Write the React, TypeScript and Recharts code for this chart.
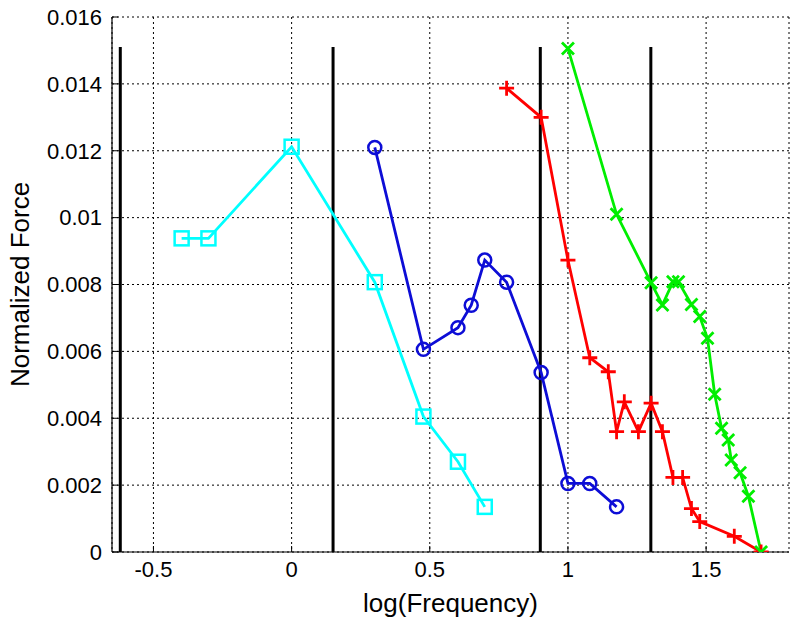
import {
  ComposedChart,
  Line,
  XAxis,
  YAxis,
  CartesianGrid,
  ReferenceLine,
} from "recharts";

// log(Frequency) values and normalized force for each trial set
const cyanX = [-0.398, -0.301, 0, 0.301, 0.477, 0.602, 0.699];
const cyanY = [0.00938, 0.00938, 0.01212, 0.00807, 0.00405, 0.0027, 0.00135];

const blueX = [0.301, 0.477, 0.602, 0.65, 0.699, 0.778, 0.903, 1.0, 1.079, 1.176];
const blueY = [0.0121, 0.00606, 0.00671, 0.00738, 0.00873, 0.00807, 0.00537, 0.00205, 0.00205, 0.00135];

const redX = [0.778, 0.903, 1.0, 1.079, 1.146, 1.176, 1.204, 1.255, 1.301, 1.342, 1.38, 1.415, 1.447, 1.477, 1.602, 1.699];
const redY = [0.01387, 0.013, 0.00873, 0.00581, 0.00539, 0.0036, 0.00449, 0.0036, 0.00445, 0.0036, 0.00223, 0.00223, 0.0013, 0.00091, 0.00047, 0];

const greenX = [1.0, 1.176, 1.301, 1.342, 1.38, 1.4, 1.447, 1.477, 1.505, 1.531, 1.556, 1.58, 1.591, 1.623, 1.653, 1.699];
const greenY = [0.01506, 0.0101, 0.00805, 0.00739, 0.00808, 0.00808, 0.0074, 0.00704, 0.00639, 0.00472, 0.0037, 0.00335, 0.00275, 0.00237, 0.00167, 0];

// black boundary lines
const boundaryX = [-0.62, 0.15, 0.9, 1.3];
const boundaryTop = 0.0151;

const xTicks = [-0.5, 0, 0.5, 1, 1.5];
const yTicks = [0, 0.002, 0.004, 0.006, 0.008, 0.01, 0.012, 0.014, 0.016];

const zip = (xs: number[], ys: number[]) => xs.map((x, i) => ({ x, y: ys[i] }));

const cyanData = zip(cyanX, cyanY);
const blueData = zip(blueX, blueY);
const redData = zip(redX, redY);
const greenData = zip(greenX, greenY);

const FONT = "'Liberation Sans', Arial, Helvetica, sans-serif";
const CYAN = "#00ffff";
const BLUE = "#0d0dd6";
const RED = "#ff0000";
const GREEN = "#00ee00";

const square = (props: any) => {
  const { cx, cy, index } = props;
  return (
    <rect
      key={`sq-${index}`}
      x={cx - 7}
      y={cy - 7}
      width={14}
      height={14}
      fill="none"
      stroke={CYAN}
      strokeWidth={2.5}
    />
  );
};

const circle = (props: any) => {
  const { cx, cy, index } = props;
  return (
    <circle key={`ci-${index}`} cx={cx} cy={cy} r={6.5} fill="none" stroke={BLUE} strokeWidth={2.5} />
  );
};

const plus = (props: any) => {
  const { cx, cy, index } = props;
  return (
    <path
      key={`pl-${index}`}
      d={`M${cx - 7.5},${cy}H${cx + 7.5}M${cx},${cy - 7.5}V${cy + 7.5}`}
      stroke={RED}
      strokeWidth={2.8}
      fill="none"
    />
  );
};

const cross = (props: any) => {
  const { cx, cy, index } = props;
  return (
    <path
      key={`cr-${index}`}
      d={`M${cx - 6},${cy - 6}L${cx + 6},${cy + 6}M${cx - 6},${cy + 6}L${cx + 6},${cy - 6}`}
      stroke={GREEN}
      strokeWidth={2.8}
      fill="none"
    />
  );
};

const fmtY = (v: number) => (v === 0 ? "0" : String(+v.toFixed(3)));

const tickStyle = { fill: "#000", fontSize: 22, fontFamily: FONT };

export default function App() {
  return (
    <div style={{ position: "absolute", left: 0, top: 0, width: 800, height: 629 }}>
      <ComposedChart
        width={800}
        height={629}
        margin={{ top: 17, right: 11, left: 0, bottom: 0 }}
        style={{ fontFamily: FONT }}
      >
        <CartesianGrid stroke="#000" strokeDasharray="2 3" strokeWidth={1} />
        <XAxis
          dataKey="x"
          type="number"
          domain={[-0.65, 1.8]}
          ticks={xTicks}
          allowDataOverflow
          interval={0}
          height={77}
          tickSize={-6}
          tickMargin={15}
          tick={tickStyle}
          axisLine={{ stroke: "#000", strokeWidth: 1.2 }}
          tickLine={{ stroke: "#000" }}
          label={{
            content: ({ viewBox }: any) => (
              <text
                x={viewBox.x + viewBox.width / 2}
                y={viewBox.y + 60}
                textAnchor="middle"
                fontSize={26}
                fontFamily={FONT}
                fill="#000"
              >
                log(Frequency)
              </text>
            ),
          }}
        />
        <XAxis
          xAxisId="top"
          orientation="top"
          type="number"
          domain={[-0.65, 1.8]}
          ticks={xTicks}
          allowDataOverflow
          interval={0}
          height={0}
          tickSize={-6}
          tickFormatter={() => ""}
          axisLine={{ stroke: "#000", strokeWidth: 1.2 }}
          tickLine={{ stroke: "#000" }}
        />
        <YAxis
          type="number"
          domain={[0, 0.016]}
          ticks={yTicks}
          allowDataOverflow
          interval={0}
          width={112}
          tickSize={-6}
          tickMargin={16}
          tickFormatter={fmtY}
          tick={tickStyle}
          axisLine={{ stroke: "#000", strokeWidth: 1.2 }}
          tickLine={{ stroke: "#000" }}
          label={{
            value: "Normalized Force",
            angle: -90,
            position: "insideLeft",
            offset: 20,
            style: { textAnchor: "middle", fontSize: 26, fontFamily: FONT, fill: "#000" },
          }}
        />
        <YAxis
          yAxisId="right"
          orientation="right"
          type="number"
          domain={[0, 0.016]}
          ticks={yTicks}
          allowDataOverflow
          interval={0}
          width={0}
          tickSize={-6}
          tickFormatter={() => ""}
          axisLine={{ stroke: "#000", strokeWidth: 1.2 }}
          tickLine={{ stroke: "#000" }}
        />
        {boundaryX.map((bx) => (
          <ReferenceLine
            key={`b-${bx}`}
            segment={[
              { x: bx, y: 0 },
              { x: bx, y: boundaryTop },
            ]}
            stroke="#000"
            strokeWidth={3}
          />
        ))}
        <Line
          data={cyanData}
          dataKey="y"
          type="linear"
          stroke={CYAN}
          strokeWidth={2.8}
          dot={square}
          activeDot={false}
          isAnimationActive={false}
        />
        <Line
          data={blueData}
          dataKey="y"
          type="linear"
          stroke={BLUE}
          strokeWidth={2.8}
          dot={circle}
          activeDot={false}
          isAnimationActive={false}
        />
        <Line
          data={redData}
          dataKey="y"
          type="linear"
          stroke={RED}
          strokeWidth={2.8}
          dot={plus}
          activeDot={false}
          isAnimationActive={false}
        />
        <Line
          data={greenData}
          dataKey="y"
          type="linear"
          stroke={GREEN}
          strokeWidth={2.8}
          dot={cross}
          activeDot={false}
          isAnimationActive={false}
        />
      </ComposedChart>
    </div>
  );
}
